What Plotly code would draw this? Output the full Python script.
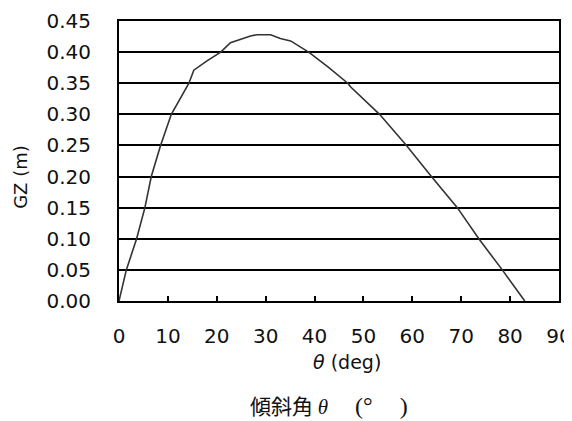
import plotly.graph_objects as go

theta = [0, 1.5, 3.6, 5.3, 6.6, 8.5, 10.7, 14.3, 15.3, 18.0, 20.8, 22.8, 26.9, 28.3,
         31.0, 33.0, 35.1, 38.8, 42.8, 46.8, 47.4, 53.3, 58.8, 63.9, 69.2, 73.6, 78.4, 83.0]
gz = [0.0, 0.05, 0.10, 0.15, 0.20, 0.25, 0.30, 0.35, 0.371, 0.386, 0.40, 0.415, 0.426, 0.428,
      0.428, 0.422, 0.418, 0.40, 0.376, 0.35, 0.344, 0.30, 0.25, 0.20, 0.15, 0.10, 0.05, 0.0]

x_ticks = [0, 10, 20, 30, 40, 50, 60, 70, 80, 90]
y_ticks = [0.00, 0.05, 0.10, 0.15, 0.20, 0.25, 0.30, 0.35, 0.40, 0.45]
y_labels = ["%.2f" % v for v in y_ticks]

FONT = "DejaVu Sans"
SERIF = "Liberation Serif"

bottom_label = (
    "傾斜角 "
    f"<span style='font-family:{SERIF}'><i>θ</i></span>　"
    f"<span style='font-family:{SERIF};font-size:24px'> (°</span>　"
    f"<span style='font-family:{SERIF};font-size:24px'> )</span>"
)

fig = go.Figure()
fig.add_trace(go.Scatter(x=theta, y=gz, mode="lines",
                         line=dict(color="#333333", width=1.6),
                         showlegend=False, hoverinfo="skip"))

fig.update_layout(
    width=564, height=413,
    margin=dict(l=110.5, r=13.3, t=12.7, b=120.3, autoexpand=False),
    paper_bgcolor="white", plot_bgcolor="white",
    font=dict(family=FONT, size=19, color="#111111"),
    xaxis=dict(range=[0, 90], tickvals=x_ticks, ticktext=[str(v) for v in x_ticks],
               showgrid=False, zeroline=False, automargin=False,
               showline=True, linecolor="black", linewidth=2, mirror=True,
               ticks="inside", ticklen=5, tickwidth=1.5, tickcolor="black",
               ticklabelstandoff=16,
               tickfont=dict(family=FONT, size=20, color="#111111")),
    yaxis=dict(range=[0, 0.45], tickvals=y_ticks, ticktext=y_labels,
               showgrid=True, gridcolor="black", gridwidth=2, zeroline=False,
               automargin=False,
               showline=True, linecolor="black", linewidth=2, mirror=True,
               ticks="", ticklabelstandoff=22,
               tickfont=dict(family=FONT, size=20, color="#111111")),
    annotations=[
        dict(text="GZ (m)", xref="paper", yref="paper", x=-0.223, y=0.443,
             xanchor="center", yanchor="middle", textangle=-90, showarrow=False,
             font=dict(family=FONT, size=18, color="#111111")),
        dict(text="<i>θ</i> (deg)", xref="paper", yref="paper", x=0.519, y=-0.218,
             xanchor="center", yanchor="middle", showarrow=False,
             font=dict(family=FONT, size=19, color="#111111")),
        dict(text=bottom_label,
             xref="paper", yref="paper", x=0.478, y=-0.372,
             xanchor="center", yanchor="middle", showarrow=False,
             font=dict(family="Noto Sans CJK JP", size=21, color="#111111")),
    ],
)

fig.write_html("out.html")
